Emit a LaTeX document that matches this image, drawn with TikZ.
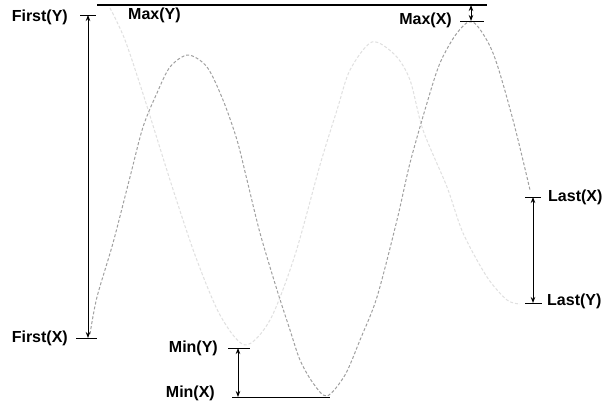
\documentclass[tikz,border=0pt]{standalone}
\usepackage{fontspec}
\setmainfont{Liberation Sans}
\usetikzlibrary{arrows.meta}
\definecolor{tracegray}{RGB}{160,160,160}
\definecolor{ghostgray}{RGB}{224,224,224}

\begin{document}
\begin{tikzpicture}[x=1pt,y=-1pt,line join=round,
  lbl/.style={font=\bfseries\fontsize{16}{18}\selectfont,inner sep=0pt},
  tick/.style={black,line width=0.9pt},
  span/.style={black,line width=0.9pt,{Stealth[length=6pt,width=4.5pt]}-{Stealth[length=6pt,width=4.5pt]}}]
  \useasboundingbox[fill=white] (0,0) rectangle (607,409);
  % the two traces: Y channel pale, X channel darker
  \draw[ghostgray,line width=1pt,dash pattern=on 3pt off 2pt] plot[smooth] coordinates {(110,8) (125,40) (145,100) (170,180) (195,255) (220,315) (245,345) (270,320) (295,255) (320,165) (337,110) (350,70) (372,42) (395,55) (410,80) (423,130) (447,187) (463,233) (487,277) (507,300) (520,304)};
  \draw[tracegray,line width=1pt,dash pattern=on 3pt off 2pt] plot[smooth] coordinates {(90,334) (97,297) (113,243) (130,177) (143,127) (157,93) (170,67) (188,55) (207,67) (223,100) (237,140) (247,180) (260,233) (277,290) (290,330) (300,360) (313,383) (327,396) (345,375) (360,340) (377,297) (397,220) (410,163) (427,103) (440,63) (457,33) (473,22) (493,53) (513,120) (530,190)};
  % marker points
  \coordinate (topL) at (97,5);    \coordinate (topR) at (487,5);
  \coordinate (fyL) at (80,15);    \coordinate (fyR) at (96,15);   \coordinate (fy) at (88,15);
  \coordinate (fxL) at (76,338);   \coordinate (fxR) at (97,338);  \coordinate (fx) at (88,338);
  \coordinate (mxL) at (460,21);   \coordinate (mxR) at (484,21);  \coordinate (mx) at (471,21);
  \coordinate (mxtop) at (471,5);
  \coordinate (myL) at (228,348);  \coordinate (myR) at (250,348); \coordinate (my) at (238,348);
  \coordinate (nxL) at (232,397);  \coordinate (nxR) at (330,397); \coordinate (nx) at (238,397);
  \coordinate (lxL) at (525,197);  \coordinate (lxR) at (541,197); \coordinate (lx) at (533,197);
  \coordinate (lyL) at (525,303);  \coordinate (lyR) at (542,303); \coordinate (ly) at (533,303);
  \draw[tick,line width=1.2pt] (topL) -- (topR);
  \foreach \a/\b in {fyL/fyR,fxL/fxR,mxL/mxR,myL/myR,nxL/nxR,lxL/lxR,lyL/lyR}{\draw[tick] (\a) -- (\b);}
  \foreach \a/\b in {fy/fx,mxtop/mx,my/nx,lx/ly}{\draw[span] (\a) -- (\b);}
  % labels
  \node[lbl,anchor=east] (firsty) at (68,17) {First(Y)};
  \node[lbl,anchor=west] (maxy) at (128,15) {Max(Y)};
  \node[lbl,anchor=east] (maxx) at (452,20) {Max(X)};
  \node[lbl,anchor=west] (lastx) at (548,197) {Last(X)};
  \node[lbl,anchor=west] (lasty) at (547,301) {Last(Y)};
  \node[lbl,anchor=east] (firstx) at (68,338) {First(X)};
  \node[lbl,anchor=east] (miny) at (218,348) {Min(Y)};
  \node[lbl,anchor=east] (minx) at (215,393) {Min(X)};
\end{tikzpicture}
\end{document}
